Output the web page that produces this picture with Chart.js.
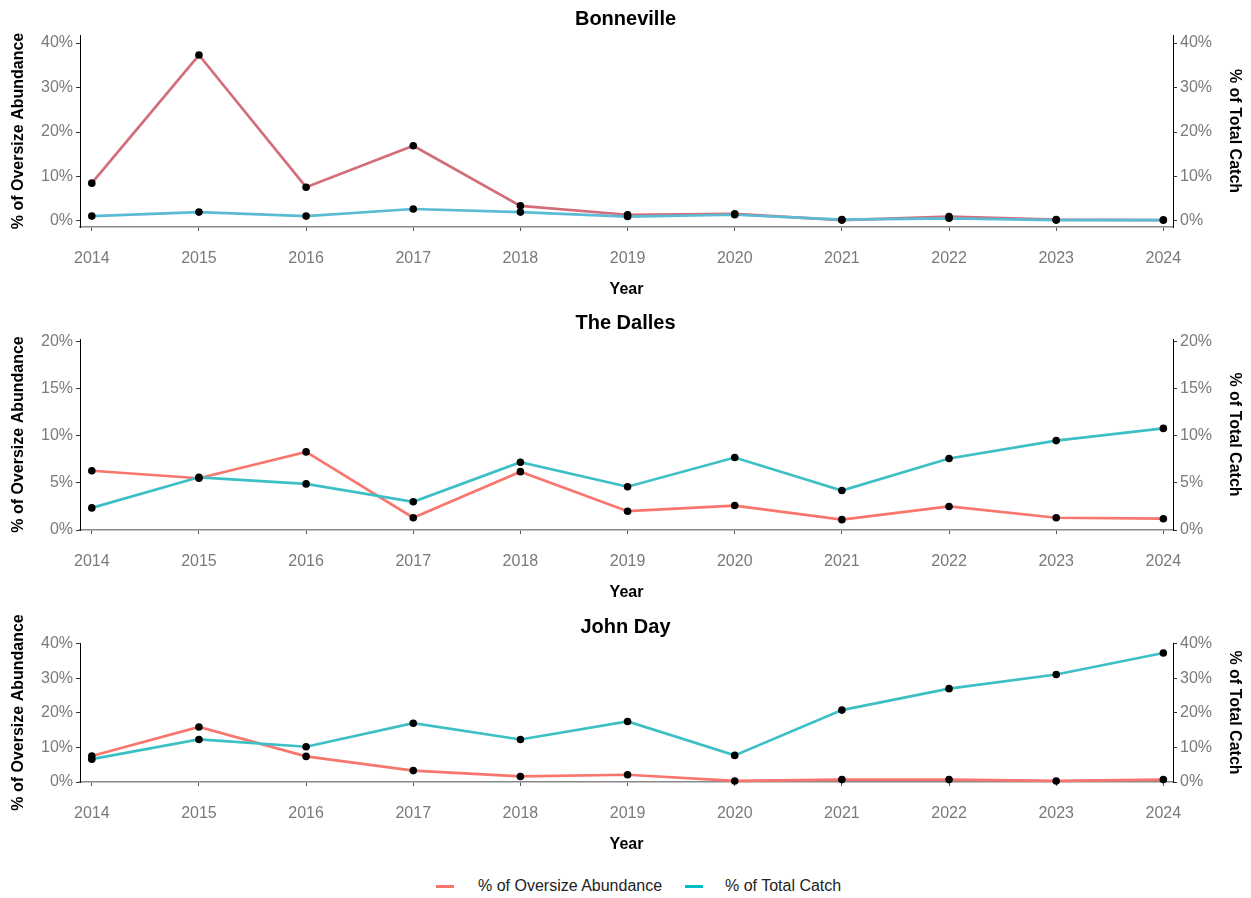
<!DOCTYPE html>
<html>
<head>
<meta charset="utf-8">
<script src="https://cdn.jsdelivr.net/npm/chart.js@4.4.1/dist/chart.umd.min.js"></script>
<style>
  html, body { margin: 0; padding: 0; background: #fff; }
  body { width: 1251px; height: 898px; position: relative; overflow: hidden; font-family: "Liberation Sans", Arial, sans-serif; }
  .panel { position: absolute; left: 0; width: 1251px; }
  .legend { position: absolute; top: 875px; height: 22px; font-size: 16px; color: #222; line-height: 22px; }
  .key { position: absolute; width: 18px; height: 3px; top: 885px; }
</style>
</head>
<body>
<div class="panel" id="p1" style="top:1px;height:306px;"><canvas id="c1"></canvas></div>
<div class="panel" id="p2" style="top:305px;height:305px;"><canvas id="c2"></canvas></div>
<div class="panel" id="p3" style="top:609px;height:253px;"><canvas id="c3"></canvas></div>

<div class="key" style="left:436px;background:#F8766D;"></div>
<div class="legend" style="left:478px;">% of Oversize Abundance</div>
<div class="key" style="left:685px;background:#00BFC4;"></div>
<div class="legend" style="left:725px;">% of Total Catch</div>

<script>
// years on the x axis
const years = [2014, 2015, 2016, 2017, 2018, 2019, 2020, 2021, 2022, 2023, 2024];

// Bonneville
const bonOversize = [8.5, 37.3, 7.6, 16.9, 3.4, 1.4, 1.6, 0.2, 1.0, 0.3, 0.2];
const bonCatch    = [1.1, 2.0, 1.1, 2.7, 2.0, 1.0, 1.4, 0.3, 0.6, 0.2, 0.2];
const bonTicks    = [0, 10, 20, 30, 40];

// The Dalles
const dalOversize = [6.3, 5.5, 8.3, 1.3, 6.2, 2.0, 2.6, 1.1, 2.5, 1.3, 1.2];
const dalCatch    = [2.35, 5.6, 4.9, 3.0, 7.2, 4.6, 7.7, 4.2, 7.6, 9.5, 10.8];
const dalTicks    = [0, 5, 10, 15, 20];

// John Day
const jdOversize = [7.5, 15.9, 7.4, 3.3, 1.6, 2.1, 0.3, 0.7, 0.7, 0.3, 0.7];
const jdCatch    = [6.6, 12.3, 10.2, 17.0, 12.3, 17.5, 7.7, 20.8, 27.0, 31.1, 37.3];
const jdTicks    = [0, 10, 20, 30, 40];

const FONT = "'Liberation Sans', Arial, sans-serif";
const GREY = '#7a7a7a';

function pts(vals) {
    return years.map((y, i) => ({ x: y, y: vals[i] }));
}

/**
 * one panel
 */
function makePanel(id, title, oversize, total, ticks, yMin, yMax, redCol, blueCol) {
    const yAxis = (pos) => ({
        type: 'linear',
        position: pos,
        min: yMin,
        max: yMax,
        afterBuildTicks: (s) => { s.ticks = ticks.map(v => ({ value: v })); },
        afterFit: (s) => { s.width = pos === 'left' ? 80 : 78; },
        ticks: {
            color: GREY,
            font: { family: FONT, size: 16 },
            padding: 3,
            callback: (v) => v + '%'
        },
        grid: { display: true, drawOnChartArea: false, drawTicks: true, tickLength: 4, tickColor: '#333' },
        border: { display: true, color: '#000', width: 1 },
        title: {
            display: true,
            text: pos === 'left' ? '% of Oversize Abundance' : '% of Total Catch',
            color: '#000',
            font: { family: FONT, size: 16, weight: 'bold' },
            padding: { top: pos === 'left' ? 9 : 7, bottom: 0 }
        }
    });

    return new Chart(document.getElementById(id), {
        type: 'line',
        data: {
            datasets: [
                { data: pts(oversize), yAxisID: 'y', borderColor: redCol, borderWidth: 2.7, pointRadius: 0, order: 3, clip: false },
                { data: pts(total), yAxisID: 'y1', borderColor: blueCol, borderWidth: 2.7, pointRadius: 0, order: 2, clip: false },
                { data: pts(oversize), yAxisID: 'y', showLine: false, pointRadius: 3.8, pointBackgroundColor: '#000', pointBorderWidth: 0, order: 1, clip: false },
                { data: pts(total), yAxisID: 'y1', showLine: false, pointRadius: 3.8, pointBackgroundColor: '#000', pointBorderWidth: 0, order: 0, clip: false }
            ]
        },
        options: {
            responsive: true,
            maintainAspectRatio: false,
            animation: false,
            layout: { padding: 0 },
            plugins: {
                legend: { display: false },
                tooltip: { enabled: false },
                title: {
                    display: true,
                    text: title,
                    color: '#000',
                    font: { family: FONT, size: 20, weight: 'bold' },
                    padding: { top: 6, bottom: 4 }
                }
            },
            scales: {
                x: {
                    type: 'linear',
                    min: 2013.89,
                    max: 2024.09,
                    afterBuildTicks: (s) => { s.ticks = years.map(v => ({ value: v })); },
                    afterFit: (s) => { s.height = 80; },
                    ticks: {
                        color: GREY,
                        font: { family: FONT, size: 16 },
                        padding: 18,
                        maxRotation: 0,
                        callback: (v) => String(v)
                    },
                    grid: { display: true, drawOnChartArea: false, drawTicks: true, tickLength: 4, tickColor: '#555' },
                    border: { display: true, color: '#888', width: 1.6 },
                    title: {
                        display: true,
                        text: 'Year',
                        color: '#000',
                        font: { family: FONT, size: 16, weight: 'bold' },
                        padding: { top: 0, bottom: 8 }
                    }
                },
                y: yAxis('left'),
                y1: yAxis('right')
            }
        }
    });
}

makePanel('c1', 'Bonneville', bonOversize, bonCatch, bonTicks, -1.35, 41.8, '#D26D79', '#5BBBD4');
makePanel('c2', 'The Dalles', dalOversize, dalCatch, dalTicks, 0, 20.3, '#F8766D', '#3CBFC5');
makePanel('c3', 'John Day', jdOversize, jdCatch, jdTicks, 0, 40.2, '#F8766D', '#3CBFC5');
</script>
</body>
</html>
